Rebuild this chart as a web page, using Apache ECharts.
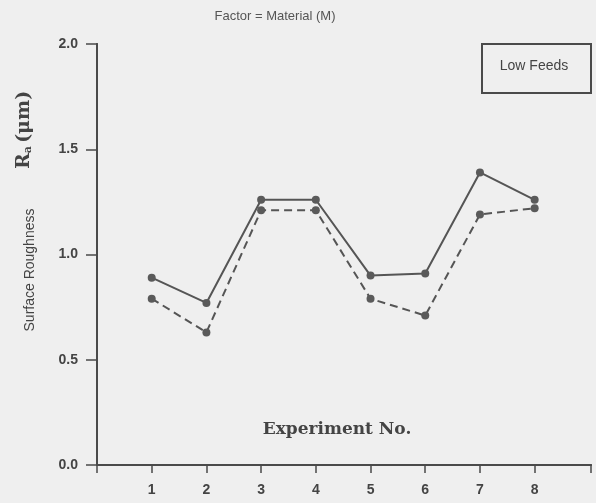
<!DOCTYPE html>
<html>
<head>
<meta charset="utf-8">
<script src="https://cdn.jsdelivr.net/npm/echarts@6/dist/echarts.min.js"></script>
<style>
    html, body { margin: 0; padding: 0; }
    #chart { width: 596px; height: 503px; }
</style>
</head>
<body>
<div id="chart"></div>
<script>
    // 数据
    var experiments = [1, 2, 3, 4, 5, 6, 7, 8];
    var solidRa = [0.89, 0.77, 1.26, 1.26, 0.90, 0.91, 1.39, 1.26];
    var dashedRa = [0.79, 0.63, 1.21, 1.21, 0.79, 0.71, 1.19, 1.22];
    var yTicks = [0.0, 0.5, 1.0, 1.5, 2.0];

    var ink = '#4a4a4a';
    var xMax = 9.03;

    function pairs(xs, ys) {
        return xs.map(function (x, i) { return [x, ys[i]]; });
    }

    var chart = echarts.init(document.getElementById('chart'));
    chart.setOption({
        backgroundColor: '#efefef',
        animation: false,
        title: {
            text: 'Factor = Material (M)',
            left: 270,
            textAlign: 'center',
            top: 5,
            textStyle: {
                color: '#555',
                fontSize: 13,
                fontWeight: 'normal',
                fontFamily: 'Liberation Sans'
            }
        },
        grid: {
            left: 97,
            right: 5,
            top: 44,
            bottom: 38
        },
        xAxis: [{
            type: 'value',
            min: 0,
            max: xMax,
            splitLine: {show: false},
            axisLine: {lineStyle: {color: ink, width: 2}},
            axisTick: {
                length: 8,
                customValues: [0, 1, 2, 3, 4, 5, 6, 7, 8, xMax],
                lineStyle: {color: ink, width: 1.5}
            },
            axisLabel: {
                customValues: experiments,
                margin: 18,
                color: '#444',
                fontSize: 14,
                fontWeight: 'bold',
                fontFamily: 'Liberation Sans'
            }
        }, {
            type: 'value',
            position: 'top',
            min: 0,
            max: xMax,
            splitLine: {show: false},
            axisLine: {show: true, lineStyle: {color: ink, width: 2}},
            axisTick: {show: false},
            axisLabel: {show: false}
        }],
        yAxis: [{
            type: 'value',
            min: 0,
            max: 2,
            interval: 0.5,
            splitLine: {show: false},
            axisLine: {show: true, lineStyle: {color: ink, width: 2}},
            axisTick: {
                show: true,
                length: 11,
                customValues: yTicks,
                lineStyle: {color: ink, width: 1.5}
            },
            axisLabel: {
                margin: 19,
                customValues: yTicks,
                color: '#444',
                fontSize: 14,
                fontWeight: 'bold',
                fontFamily: 'Liberation Sans',
                formatter: function (v) { return v.toFixed(1); }
            }
        }, {
            type: 'value',
            position: 'right',
            min: 0,
            max: 2,
            splitLine: {show: false},
            axisLine: {show: true, lineStyle: {color: ink, width: 2}},
            axisTick: {show: false},
            axisLabel: {show: false}
        }],
        graphic: [{
            // 图例框
            type: 'rect',
            shape: {x: 482, y: 44, width: 109, height: 49},
            style: {fill: 'none', stroke: ink, lineWidth: 2}
        }, {
            type: 'text',
            x: 534,
            y: 66,
            style: {
                text: 'Low Feeds',
                align: 'center',
                verticalAlign: 'middle',
                fill: '#444',
                font: '14px "Liberation Sans"'
            }
        }, {
            type: 'text',
            x: 337,
            y: 430,
            style: {
                text: 'Experiment No.',
                align: 'center',
                verticalAlign: 'middle',
                fill: '#444',
                font: 'bold 17px "DejaVu Serif"'
            }
        }, {
            type: 'text',
            x: 30,
            y: 270,
            rotation: Math.PI / 2,
            style: {
                text: 'Surface Roughness',
                align: 'center',
                verticalAlign: 'middle',
                fill: '#444',
                font: '14px "Liberation Sans"'
            }
        }, {
            type: 'text',
            x: 24,
            y: 130,
            rotation: Math.PI / 2,
            style: {
                text: '{r|R}{s|a} {r|(μm)}',
                align: 'center',
                verticalAlign: 'middle',
                rich: {
                    r: {
                        fill: '#444',
                        font: 'bold 19px "DejaVu Serif"'
                    },
                    s: {
                        fill: '#444',
                        font: 'bold 11px "DejaVu Serif"',
                        padding: [9, 0, 0, 0]
                    }
                }
            }
        }],
        series: [{
            type: 'line',
            data: pairs(experiments, solidRa),
            symbol: 'circle',
            symbolSize: 8,
            itemStyle: {color: '#5a5a5a'},
            lineStyle: {color: '#555', width: 2, type: 'solid'}
        }, {
            type: 'line',
            data: pairs(experiments, dashedRa),
            symbol: 'circle',
            symbolSize: 8,
            itemStyle: {color: '#5a5a5a'},
            lineStyle: {color: '#555', width: 2, type: [8, 5]}
        }]
    });
</script>
</body>
</html>
